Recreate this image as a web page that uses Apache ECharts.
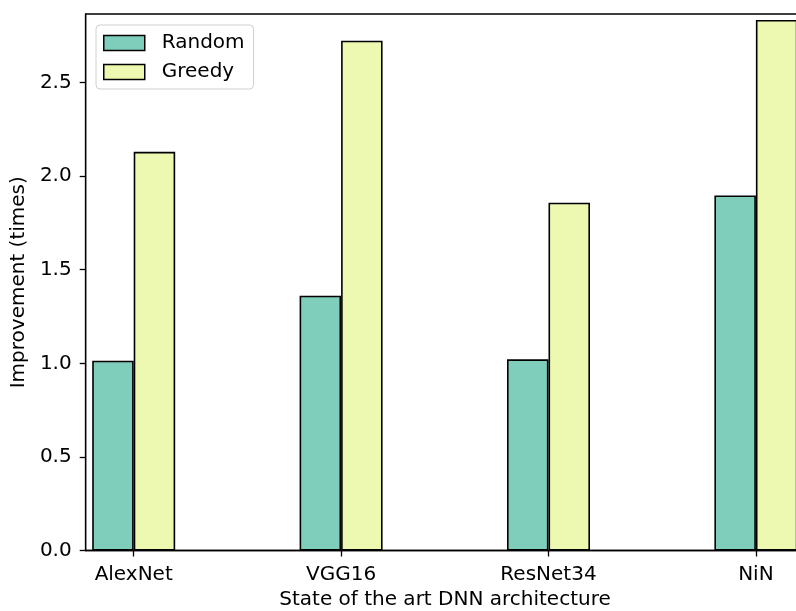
<!DOCTYPE html>
<html>
<head>
<meta charset="utf-8">
<script src="https://cdn.jsdelivr.net/npm/echarts@6/dist/echarts.min.js"></script>
<style>html,body{margin:0;padding:0;background:#fff;overflow:hidden;width:796px;height:611px}
#wrap{width:796px;height:611px;overflow:hidden;position:relative}
#c{width:806px;height:611px;position:absolute;left:0;top:0}</style>
</head>
<body>
<div id="wrap"><div id="c"></div></div>
<script>
var categories = ['AlexNet', 'VGG16', 'ResNet34', 'NiN'];
var seriesNames = ['Random', 'Greedy'];
var randomValues = [1.014, 1.361, 1.021, 1.897];
var greedyValues = [2.130, 2.723, 1.858, 2.834];
var yTicks = [0, 0.5, 1.0, 1.5, 2.0, 2.5];
var xTicks = [0, 1, 2, 3];

var FONT = 'DejaVu Sans';
function pairs(vals) { return vals.map(function (v, i) { return [i, v]; }); }

var chart = echarts.init(document.getElementById('c'), null, { renderer: 'canvas' });
chart.setOption({
  animation: false,
  backgroundColor: '#fff',
  textStyle: { fontFamily: FONT },
  grid: {
    left: 85.7, right: 1.7, top: 14, bottom: 60.5,
    outerBoundsMode: 'none', containLabel: false,
    show: true, borderColor: '#000', borderWidth: 1.3, backgroundColor: 'transparent'
  },
  legend: {
    orient: 'vertical', left: 96, top: 25,
    data: seriesNames,
    icon: 'rect',
    itemWidth: 41, itemHeight: 15, itemGap: 9,
    padding: [8, 9, 7, 7],
    backgroundColor: '#fff', borderColor: '#d0d0d0', borderWidth: 1, borderRadius: 4,
    textStyle: { fontFamily: FONT, fontSize: 20, color: '#000', padding: [0, 0, 0, 12] },
    itemStyle: { borderColor: '#000', borderWidth: 1.5 }
  },
  xAxis: {
    type: 'value', min: -0.2314, max: 3.2334,
    name: 'State of the art DNN architecture', nameLocation: 'middle', nameGap: 37,
    nameTextStyle: { fontFamily: FONT, fontSize: 20, color: '#000' },
    axisLine: { show: true, onZero: false, lineStyle: { color: '#000', width: 1.3 } },
    axisTick: { show: true, length: 6, customValues: xTicks, lineStyle: { color: '#000', width: 1.3 } },
    axisLabel: {
      customValues: xTicks, margin: 14, fontFamily: FONT, fontSize: 20, color: '#000',
      formatter: function (v) { return categories[Math.round(v)]; }
    },
    splitLine: { show: false }
  },
  yAxis: {
    type: 'value', min: 0, max: 2.866,
    name: 'Improvement (times)', nameLocation: 'middle', nameGap: 51,
    nameTextStyle: { fontFamily: FONT, fontSize: 20, color: '#000' },
    axisLine: { show: true, onZero: false, lineStyle: { color: '#000', width: 1.3 } },
    axisTick: { show: true, length: 6, customValues: yTicks, lineStyle: { color: '#000', width: 1.3 } },
    axisLabel: {
      customValues: yTicks, margin: 14, fontFamily: FONT, fontSize: 20, color: '#000',
      formatter: function (v) { return v.toFixed(1); }
    },
    splitLine: { show: false }
  },
  series: [
    {
      name: seriesNames[0], type: 'bar', data: pairs(randomValues),
      barWidth: 41.5, barGap: '0%',
      itemStyle: { color: '#7fcdbb', borderColor: '#000', borderWidth: 1.6 }
    },
    {
      name: seriesNames[1], type: 'bar', data: pairs(greedyValues),
      barWidth: 41.5, barGap: '0%',
      itemStyle: { color: '#edf8b1', borderColor: '#000', borderWidth: 1.6 }
    }
  ]
});
</script>
</body>
</html>
